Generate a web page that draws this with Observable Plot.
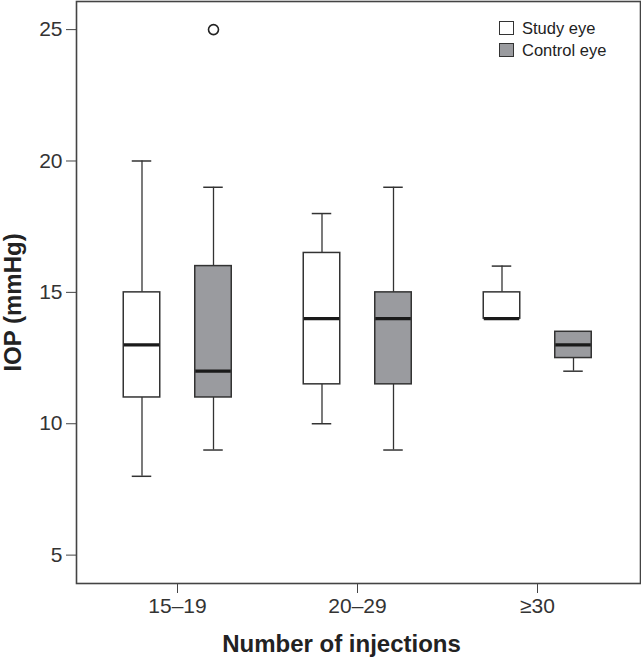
<!DOCTYPE html>
<html>
<head>
<meta charset="utf-8">
<script src="https://cdn.jsdelivr.net/npm/d3@7"></script>
<script src="https://cdn.jsdelivr.net/npm/@observablehq/plot@0.6"></script>
<style>
  html, body { margin: 0; padding: 0; background: #fff; }
  #wrap { position: relative; width: 641px; height: 660px; font-family: "Liberation Sans", Arial, sans-serif; }
  #legend { position: absolute; left: 499px; top: 17px; font-size: 16.5px; color: #222; line-height: 22px; }
  .item { display: flex; align-items: center; height: 22px; }
  .sw { width: 13px; height: 12px; border: 1.5px solid #333; margin-right: 8px; }
</style>
</head>
<body>
<div id="wrap"><div id="legend"></div></div>
<script>
const categories = ["15–19", "20–29", "≥30"];
const eyes = ["Study eye", "Control eye"];
const eyeColors = ["#ffffff", "#9a9b9f"];

const studyMin = [8, 10, 14];
const studyQ1 = [11, 11.5, 14];
const studyMedian = [13, 14, 14];
const studyQ3 = [15, 16.5, 15];
const studyMax = [20, 18, 16];

const controlMin = [9, 9, 12];
const controlQ1 = [11, 11.5, 12.5];
const controlMedian = [12, 14, 13];
const controlQ3 = [16, 15, 13.5];
const controlMax = [19, 19, 13.5];

const outlierCategory = ["15–19"];
const outlierEye = ["Control eye"];
const outlierValue = [25];

const yTicks = [5, 10, 15, 20, 25];
const xTitle = "Number of injections";
const yTitle = "IOP (mmHg)";

const study = categories.map((c, i) => ({category: c, min: studyMin[i], q1: studyQ1[i], median: studyMedian[i], q3: studyQ3[i], max: studyMax[i]}));
const control = categories.map((c, i) => ({category: c, min: controlMin[i], q1: controlQ1[i], median: controlMedian[i], q3: controlQ3[i], max: controlMax[i]}));
const outliers = outlierValue.map((v, i) => ({category: outlierCategory[i], eye: outlierEye[i], value: v}));

const step = 180.5;
const boxW = 37, capW = 20;
const boxInset = (step - boxW) / 2;
const capInset = (step - capW) / 2;
const offsets = {"Study eye": -35.5, "Control eye": 36};

function boxMarks(rows, eye, fill) {
  const dx = offsets[eye];
  return [
    Plot.ruleX(rows, {x: "category", y1: "min", y2: "q1", dx, stroke: "#333", strokeWidth: 1.3}),
    Plot.ruleX(rows, {x: "category", y1: "q3", y2: "max", dx, stroke: "#333", strokeWidth: 1.3}),
    Plot.tickY(rows, {x: "category", y: "min", dx, insetLeft: capInset, insetRight: capInset, stroke: "#333", strokeWidth: 1.5}),
    Plot.tickY(rows, {x: "category", y: "max", dx, insetLeft: capInset, insetRight: capInset, stroke: "#333", strokeWidth: 1.5}),
    Plot.barY(rows, {x: "category", y1: "q1", y2: "q3", dx, insetLeft: boxInset, insetRight: boxInset, fill, stroke: "#333", strokeWidth: 1.5}),
    Plot.tickY(rows, {x: "category", y: "median", dx, insetLeft: boxInset + 0.5, insetRight: boxInset + 0.5, stroke: "#1a1a1a", strokeWidth: 3.2})
  ];
}

const chart = Plot.plot({
  width: 641,
  height: 660,
  marginTop: 1,
  marginLeft: 76,
  marginRight: 1,
  marginBottom: 77,
  style: {fontFamily: "'Liberation Sans', Arial, sans-serif", fontSize: "21px", color: "#333", background: "white"},
  x: {type: "band", domain: categories, range: [176 - step / 2, 537 + step / 2], padding: 0, label: null},
  y: {domain: [3.92, 26.07], label: null},
  marks: [
    ...boxMarks(study, "Study eye", eyeColors[0]),
    ...boxMarks(control, "Control eye", eyeColors[1]),
    Plot.dot(outliers, {x: "category", y: "value", dx: offsets["Control eye"], r: 5, stroke: "#222", strokeWidth: 1.6, fill: "none"}),
    Plot.frame({stroke: "#444", strokeWidth: 1.6}),
    Plot.axisY({ticks: yTicks, tickSize: 10, tickPadding: 4, label: null, fontSize: 21, stroke: "#444"}),
    Plot.axisX({tickSize: 10, tickPadding: 5, label: null, fontSize: 21, stroke: "#444"}),
    Plot.text([xTitle], {frameAnchor: "bottom", textAnchor: "middle", lineAnchor: "middle", dx: -17, dy: 61, fontSize: 24, fontWeight: "bold", fill: "#222"}),
    Plot.text([yTitle], {frameAnchor: "left", textAnchor: "middle", lineAnchor: "middle", rotate: -90, dx: -63, dy: 10, fontSize: 24, fontWeight: "bold", fill: "#222"})
  ]
});
document.getElementById("wrap").prepend(chart);

const legend = document.getElementById("legend");
eyes.forEach((e, i) => {
  const item = document.createElement("div");
  item.className = "item";
  const sw = document.createElement("div");
  sw.className = "sw";
  sw.style.background = eyeColors[i];
  const t = document.createElement("span");
  t.textContent = e;
  item.append(sw, t);
  legend.append(item);
});
</script>
</body>
</html>
